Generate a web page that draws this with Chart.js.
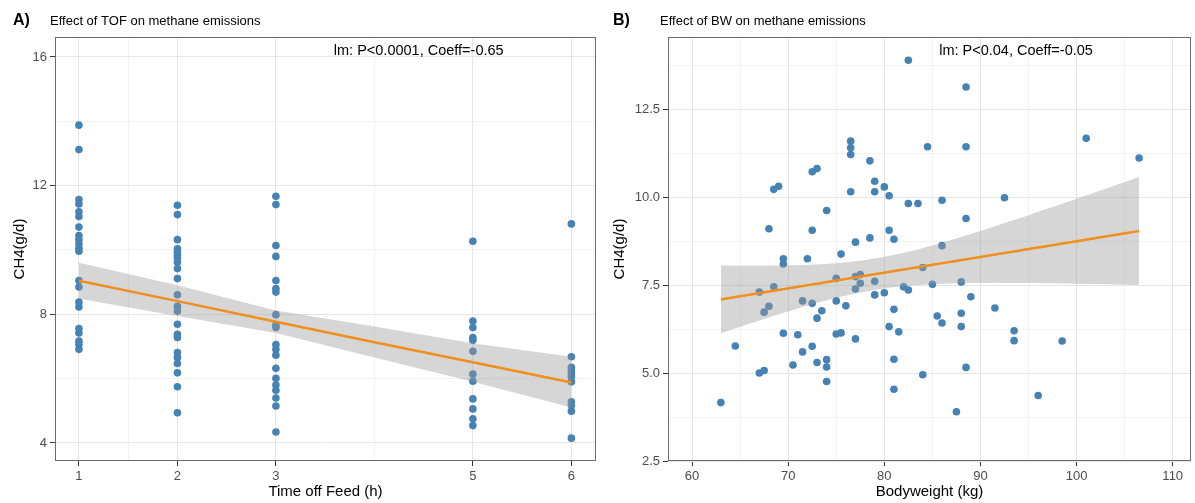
<!DOCTYPE html>
<html>
<head>
<meta charset="utf-8">
<script src="https://cdn.jsdelivr.net/npm/chart.js@4.4.0/dist/chart.umd.min.js"></script>
<style>
  html, body { margin: 0; padding: 0; background: #fff; }
  #wrap { position: relative; width: 1195px; height: 503px; }
  .panel { position: absolute; top: 0; height: 503px; }
  #pA { left: 0; width: 600px; }
  #pB { left: 600px; width: 595px; }
</style>
</head>
<body>
<div id="wrap">
  <div class="panel" id="pA"><canvas id="chartA" width="600" height="503"></canvas></div>
  <div class="panel" id="pB"><canvas id="chartB" width="595" height="503"></canvas></div>
</div>
<script>
// ---------- Panel A: time off feed (h) vs CH4 ----------
const tofHours = [1, 2, 3, 5, 6];
const ch4Tof1 = [13.88, 13.12, 11.57, 11.43, 11.19, 11.04, 10.71, 10.45, 10.32, 10.19, 10.05, 9.96, 9.05, 8.85, 8.38, 8.23, 7.56, 7.42, 7.17, 7.06, 6.91];
const ch4Tof2 = [11.39, 11.10, 10.32, 10.04, 9.93, 9.83, 9.75, 9.62, 9.42, 9.11, 8.61, 8.25, 8.10, 7.69, 7.38, 7.28, 6.81, 6.66, 6.47, 6.18, 5.75, 4.94];
const ch4Tof3 = [11.67, 11.41, 10.14, 9.80, 9.05, 8.80, 8.69, 7.99, 7.66, 7.59, 7.06, 6.91, 6.73, 6.32, 6.01, 5.80, 5.64, 5.40, 5.15, 4.34];
const ch4Tof5 = [10.27, 7.79, 7.59, 7.28, 7.19, 6.85, 6.14, 5.92, 5.37, 5.06, 4.75, 4.54];
const ch4Tof6 = [10.81, 6.68, 6.35, 6.24, 6.14, 6.06, 5.90, 5.28, 5.18, 4.99, 4.15];
// lm line and 95% band
const tofSmoothX = [1, 2, 3, 4, 5, 6];
const tofSmoothFit = [9.04, 8.41, 7.77, 7.13, 6.51, 5.88];
const tofSmoothUpper = [9.60, 8.90, 8.12, 7.62, 7.10, 6.68];
const tofSmoothLower = [8.48, 7.95, 7.42, 6.66, 5.90, 5.10];
const tofXTicks = [1, 2, 3, 5, 6];
const tofXMinor = [1.5, 4];
const tofYTicks = [4, 8, 12, 16];
const tofYMinor = [6, 10, 14];

// ---------- Panel B: bodyweight (kg) vs CH4 ----------
const bwKg = [68.0, 68.5, 69.0, 72.5, 73.0, 74.0, 72.5, 76.5, 76.5, 76.5, 76.5, 78.5, 79.0, 79.0, 80.0, 80.5, 80.5, 81.0, 78.5, 77.0, 75.5, 69.5, 72.0,
  69.5, 67.0, 68.5, 68.0, 67.5, 71.5, 72.5, 73.0, 73.5, 75.0, 75.0, 76.0, 77.0, 77.0, 77.5, 77.5, 79.0, 79.0, 80.0, 81.0, 80.5, 81.5,
  69.5, 71.0, 75.0, 75.5, 77.0, 64.5, 71.5, 72.5, 70.5, 73.0, 74.0, 74.0, 74.0, 67.0, 67.5, 81.0, 81.0, 63.0,
  82.5, 88.5, 84.5, 88.5, 101.0, 106.5, 82.5, 83.5, 86.0, 88.5, 92.5, 86.0,
  84.0, 85.0, 88.0, 82.0, 82.5, 89.0, 85.5, 86.0, 88.0, 88.0, 91.5, 93.5, 93.5, 98.5, 84.0, 88.5, 96.0, 87.5];
const ch4Bw = [9.10, 10.22, 10.31, 10.72, 10.81, 9.62, 9.06, 11.59, 11.40, 11.21, 10.15, 11.03, 10.45, 10.15, 10.29, 10.04, 9.06, 8.80, 8.84, 8.72, 8.38, 8.25, 8.25,
  8.10, 7.30, 7.45, 6.90, 6.73, 7.05, 6.98, 6.56, 6.77, 7.69, 7.05, 6.91, 7.39, 7.74, 7.55, 7.80, 7.61, 7.22, 7.28, 6.81, 6.32, 6.17,
  6.13, 6.09, 6.11, 6.14, 5.97, 5.77, 5.60, 5.76, 5.23, 5.30, 5.38, 5.17, 4.76, 5.00, 5.07, 5.39, 4.54, 4.16,
  13.89, 13.13, 11.43, 11.43, 11.67, 11.11, 9.82, 9.82, 9.91, 9.39, 9.98, 8.62,
  8.00, 7.52, 7.59, 7.45, 7.36, 7.17, 6.62, 6.42, 6.70, 6.32, 6.85, 6.20, 5.92, 5.91, 4.95, 5.16, 4.36, 3.90];
const bwXTicks = [60, 70, 80, 90, 100, 110];
const bwXMinor = [65, 75, 85, 95, 105];
const bwYTicks = [2.5, 5.0, 7.5, 10.0, 12.5];
const bwYMinor = [3.75, 6.25, 8.75, 11.25, 13.75];

const FONT = "'Liberation Sans', Arial, Helvetica, sans-serif";
const POINT_COLOR = '#4682b4';
const LINE_COLOR = '#f28e1c';

// linear model with 95% confidence band, like geom_smooth(method = "lm")
function lmBand(xs, ys, steps) {
  const n = xs.length;
  const mx = xs.reduce((a, b) => a + b, 0) / n;
  const my = ys.reduce((a, b) => a + b, 0) / n;
  let sxx = 0, sxy = 0;
  for (let i = 0; i < n; i++) {
    sxx += (xs[i] - mx) ** 2;
    sxy += (xs[i] - mx) * (ys[i] - my);
  }
  const b = sxy / sxx;
  const a = my - b * mx;
  let sse = 0;
  for (let i = 0; i < n; i++) sse += (ys[i] - a - b * xs[i]) ** 2;
  const s = Math.sqrt(sse / (n - 2));
  const t = 1.988;
  const lo = Math.min(...xs), hi = Math.max(...xs);
  const fit = [], upper = [], lower = [];
  for (let k = 0; k <= steps; k++) {
    const x = lo + (hi - lo) * k / steps;
    const y = a + b * x;
    const se = s * Math.sqrt(1 / n + (x - mx) ** 2 / sxx);
    fit.push({ x, y });
    upper.push({ x, y: y + t * se });
    lower.push({ x, y: y - t * se });
  }
  return { fit, upper, lower };
}

function makeAxis(min, max, major, minor, size, isX, fmt) {
  const all = major.concat(minor).sort((p, q) => p - q);
  const isMajor = v => major.some(m => Math.abs(m - v) < 1e-9);
  return {
    type: 'linear',
    min: min,
    max: max,
    afterFit: s => { if (isX) s.height = size; else s.width = size; },
    afterBuildTicks: s => { s.ticks = all.map(v => ({ value: v })); },
    ticks: {
      autoSkip: false,
      maxRotation: 0,
      padding: 3,
      color: '#4d4d4d',
      font: { size: 13, family: FONT },
      callback: v => isMajor(v) ? fmt(v) : ''
    },
    grid: {
      color: c => (c.tick && isMajor(c.tick.value)) ? '#e6e6e6' : '#f2f2f2',
      lineWidth: 1,
      tickLength: 5,
      tickColor: c => (c.tick && isMajor(c.tick.value)) ? '#333333' : 'rgba(0,0,0,0)'
    },
    border: { display: false }
  };
}

function decorPlugin(t) {
  return {
    id: 'decor',
    afterDraw(chart) {
      const { ctx, chartArea: a, scales } = chart;
      ctx.save();
      // panel border
      ctx.strokeStyle = '#6b6b6b';
      ctx.lineWidth = 1;
      ctx.strokeRect(a.left + 0.5, a.top + 0.5, a.right - a.left - 1, a.bottom - a.top - 1);
      ctx.fillStyle = '#000';
      ctx.textBaseline = 'middle';
      // panel label + title
      ctx.textAlign = 'left';
      ctx.font = 'bold 16px ' + FONT;
      ctx.fillText(t.label, 13, 21);
      ctx.font = '13px ' + FONT;
      ctx.fillText(t.title, t.titleX, 21);
      // lm annotation
      ctx.textAlign = 'center';
      ctx.font = '14.5px ' + FONT;
      ctx.fillText(t.note, scales.x.getPixelForValue(t.noteAt[0]), scales.y.getPixelForValue(t.noteAt[1]));
      // axis titles
      ctx.font = '15px ' + FONT;
      ctx.fillText(t.xTitle, (a.left + a.right) / 2, 492);
      ctx.translate(20, (a.top + a.bottom) / 2);
      ctx.rotate(-Math.PI / 2);
      ctx.fillText(t.yTitle, 0, 0);
      ctx.restore();
    }
  };
}

function makePanel(canvasId, xs, ys, band, ax, text) {
  const pts = xs.map((x, i) => ({ x: x, y: ys[i] }));
  return new Chart(document.getElementById(canvasId), {
    type: 'scatter',
    data: {
      datasets: [
        { type: 'line', data: band.fit, borderColor: LINE_COLOR, borderWidth: 2.5, pointRadius: 0, fill: false, tension: 0 },
        { type: 'line', data: band.upper, borderWidth: 0, borderColor: 'rgba(0,0,0,0)', pointRadius: 0, fill: '+1', backgroundColor: 'rgba(153,153,153,0.4)', tension: 0 },
        { type: 'line', data: band.lower, borderWidth: 0, borderColor: 'rgba(0,0,0,0)', pointRadius: 0, fill: false, tension: 0 },
        { type: 'scatter', data: pts, pointRadius: 3.8, backgroundColor: POINT_COLOR, borderWidth: 0 }
      ]
    },
    options: {
      responsive: false,
      devicePixelRatio: 1,
      animation: false,
      events: [],
      layout: { padding: { top: 37, right: ax.padRight, left: 0, bottom: 0 } },
      plugins: { legend: { display: false }, tooltip: { enabled: false } },
      scales: {
        x: makeAxis(ax.xMin, ax.xMax, ax.xMajor, ax.xMinor, 42, true, v => String(v)),
        y: makeAxis(ax.yMin, ax.yMax, ax.yMajor, ax.yMinor, ax.yWidth, false, ax.yFmt)
      }
    },
    plugins: [decorPlugin(text)]
  });
}

// Panel A
const tofAllX = [], tofAllY = [];
[ch4Tof1, ch4Tof2, ch4Tof3, ch4Tof5, ch4Tof6].forEach((grp, g) => {
  grp.forEach(v => { tofAllX.push(tofHours[g]); tofAllY.push(v); });
});
const tofBand = {
  fit: tofSmoothX.map((x, i) => ({ x: x, y: tofSmoothFit[i] })),
  upper: tofSmoothX.map((x, i) => ({ x: x, y: tofSmoothUpper[i] })),
  lower: tofSmoothX.map((x, i) => ({ x: x, y: tofSmoothLower[i] }))
};
makePanel('chartA', tofAllX, tofAllY, tofBand, {
  xMin: 0.757, xMax: 6.25, xMajor: tofXTicks, xMinor: tofXMinor,
  yMin: 3.44, yMax: 16.62, yMajor: tofYTicks, yMinor: tofYMinor,
  yWidth: 55, padRight: 2, yFmt: v => String(v)
}, {
  label: 'A)', title: 'Effect of TOF on methane emissions', titleX: 50,
  note: 'lm: P<0.0001, Coeff=-0.65', noteAt: [4.45, 16.19],
  xTitle: 'Time off Feed (h)', yTitle: 'CH4(g/d)'
});

// Panel B
makePanel('chartB', bwKg, ch4Bw, lmBand(bwKg, ch4Bw, 80), {
  xMin: 57.5, xMax: 111.9, xMajor: bwXTicks, xMinor: bwXMinor,
  yMin: 2.5, yMax: 14.55, yMajor: bwYTicks, yMinor: bwYMinor,
  yWidth: 68, padRight: 1, yFmt: v => v.toFixed(1)
}, {
  label: 'B)', title: 'Effect of BW on methane emissions', titleX: 60,
  note: 'lm: P<0.04, Coeff=-0.05', noteAt: [93.7, 14.15],
  xTitle: 'Bodyweight (kg)', yTitle: 'CH4(g/d)'
});
</script>
</body>
</html>
